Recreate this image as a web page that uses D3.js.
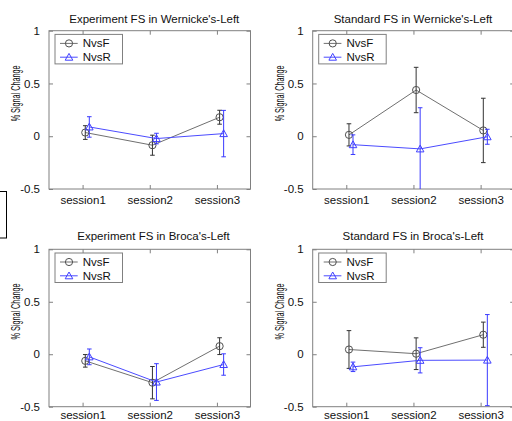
<!DOCTYPE html>
<meta charset="utf-8">
<style>
body { margin: 0; background: #fff; }
svg { font-family: "Liberation Sans", Arial, sans-serif; }
.axis .domain { display: none; }
.axis line { stroke: #808080; }
.axis text { fill: #111; font-size: 11.5px; }
</style>
<svg id="chart" width="512" height="421"></svg>
<script src="https://d3js.org/d3.v7.min.js"></script>
<script>

// data
var sessions = ["session1", "session2", "session3"];
var yTicks = [-0.5, 0, 0.5, 1];
var yTickLabels = ["-0.5", "0", "0.5", "1"];
var seriesNames = ["NvsF", "NvsR"];
var titles = [
  "Experiment FS in Wernicke's-Left",
  "Standard FS in Wernicke's-Left",
  "Experiment FS in Broca's-Left",
  "Standard FS in Broca's-Left"
];
var nvsF    = [[0.035, -0.085, 0.18], [0.013, 0.438, 0.055], [-0.063, -0.271, 0.077], [0.045, 0.005, 0.186]];
var nvsFErr = [[0.065, 0.095, 0.066], [0.105, 0.215, 0.305], [0.06, 0.154, 0.08], [0.18, 0.151, 0.12]];
var nvsR    = [[0.088, -0.022, 0.025], [-0.08, -0.12, -0.005], [-0.025, -0.265, -0.098], [-0.12, -0.058, -0.056]];
var nvsRErr = [[0.097, 0.05, 0.22], [0.093, 0.39, 0.071], [0.075, 0.175, 0.102], [0.045, 0.12, 0.434]];

// layout of the four axes (pixels)
var panels = [
  {left: 49, right: 250.5, top: 30.7, bottom: 189, titleX: 154.3, titleY: 23.3, labelY: 204},
  {left: 312.7, right: 514.2, top: 30.7, bottom: 189, titleX: 413, titleY: 23.3, labelY: 204},
  {left: 49, right: 250.5, top: 249.3, bottom: 406.7, titleX: 153.5, titleY: 239.6, labelY: 418.6},
  {left: 312.7, right: 514.2, top: 249.3, bottom: 406.7, titleX: 413, titleY: 240.2, labelY: 418.6}
];
var offsets = [0.04, 0.1];
var lineColors = ["#707070", "#4b4bff"];
var errColors = ["#333333", "#3a3aff"];
var markerColors = ["#505050", "#4040ff"];

var svg = d3.select("#chart");

// stray frame at the left edge
svg.append("rect")
  .attr("x", -2).attr("y", 191.5).attr("width", 8.5).attr("height", 46.5)
  .attr("fill", "none").attr("stroke", "#000");

function marker(sel, k, cx, cy) {
  if (k == 0) {
    sel.append("circle").attr("cx", cx).attr("cy", cy).attr("r", 3.6)
      .attr("fill", "none").attr("stroke", markerColors[0]);
  } else {
    sel.append("path")
      .attr("d", "M" + cx + "," + (cy - 3.8) + "L" + (cx + 3.8) + "," + (cy + 3) + "L" + (cx - 3.8) + "," + (cy + 3) + "Z")
      .attr("fill", "none").attr("stroke", markerColors[1]);
  }
}

panels.forEach(function(p, i) {
  var x = d3.scaleLinear().domain([0.5, 3.5]).range([p.left, p.right]);
  var y = d3.scaleLinear().domain([-0.5, 1]).range([p.bottom, p.top]);
  var g = svg.append("g");

  g.append("rect")
    .attr("x", p.left).attr("y", p.top)
    .attr("width", p.right - p.left).attr("height", p.bottom - p.top)
    .attr("fill", "#fff").attr("stroke", "#808080");

  var xAxis = g.append("g").attr("class", "axis")
    .attr("transform", "translate(0," + p.bottom + ")")
    .call(d3.axisBottom(x).tickValues([1, 2, 3]).tickSize(-4)
      .tickFormat(function(d) { return sessions[d - 1]; }));
  xAxis.selectAll("text").attr("y", p.labelY - p.bottom).attr("dy", null);

  g.append("g").attr("class", "axis")
    .attr("transform", "translate(0," + p.top + ")")
    .call(d3.axisTop(x).tickValues([1, 2, 3]).tickSize(-4).tickFormat(""));

  g.append("g").attr("class", "axis")
    .attr("transform", "translate(" + p.left + ",0)")
    .call(d3.axisLeft(y).tickValues(yTicks).tickSize(-4).tickPadding(9)
      .tickFormat(function(d) { return yTickLabels[yTicks.indexOf(d)]; }));

  g.append("g").attr("class", "axis")
    .attr("transform", "translate(" + p.right + ",0)")
    .call(d3.axisRight(y).tickValues(yTicks).tickSize(-4).tickFormat(""));

  g.append("text")
    .attr("x", p.titleX).attr("y", p.titleY)
    .attr("text-anchor", "middle").attr("font-size", 11.5).attr("fill", "#111")
    .text(titles[i]);

  var lx = p.left - 33, ly = (p.top + p.bottom) / 2 - 16.5;
  g.append("text")
    .attr("transform", "translate(" + lx + "," + ly + ") rotate(-90)")
    .attr("text-anchor", "middle").attr("dy", "0.35em")
    .attr("font-size", 12).attr("fill", "#111")
    .attr("textLength", 56).attr("lengthAdjust", "spacingAndGlyphs")
    .text("% Signal Change");

  var clipId = "clip" + i;
  g.append("clipPath").attr("id", clipId).append("rect")
    .attr("x", p.left).attr("y", p.top)
    .attr("width", p.right - p.left).attr("height", p.bottom - p.top);
  var plot = g.append("g").attr("clip-path", "url(#" + clipId + ")");

  [[nvsF[i], nvsFErr[i]], [nvsR[i], nvsRErr[i]]].forEach(function(s, k) {
    var pts = s[0].map(function(v, j) { return {x: j + 1 + offsets[k], v: v, e: s[1][j]}; });

    plot.append("path")
      .attr("d", d3.line().x(function(d) { return x(d.x); }).y(function(d) { return y(d.v); })(pts))
      .attr("fill", "none").attr("stroke", lineColors[k]);

    pts.forEach(function(d) {
      var cx = x(d.x), y0 = y(d.v - d.e), y1 = y(d.v + d.e);
      plot.append("path")
        .attr("d", "M" + cx + "," + y0 + "V" + y1 +
          "M" + (cx - 2.3) + "," + y0 + "H" + (cx + 2.3) +
          "M" + (cx - 2.3) + "," + y1 + "H" + (cx + 2.3))
        .attr("fill", "none").attr("stroke", errColors[k]);
      marker(plot, k, cx, y(d.v));
    });
  });

  // legend
  var bx = p.left + 6, by = p.top + 3.7;
  g.append("rect")
    .attr("x", bx).attr("y", by).attr("width", 67.5).attr("height", 29.5)
    .attr("fill", "#fff").attr("stroke", "#808080");
  seriesNames.forEach(function(name, k) {
    var ry = p.top + 12.7 + k * 13.8;
    g.append("line")
      .attr("x1", bx + 5).attr("x2", bx + 22.7).attr("y1", ry).attr("y2", ry)
      .attr("stroke", lineColors[k]);
    marker(g, k, bx + 14, ry);
    g.append("text")
      .attr("x", bx + 27.7).attr("y", ry).attr("dy", "0.35em")
      .attr("font-size", 11.5).attr("fill", "#111")
      .text(name);
  });
});
</script>
